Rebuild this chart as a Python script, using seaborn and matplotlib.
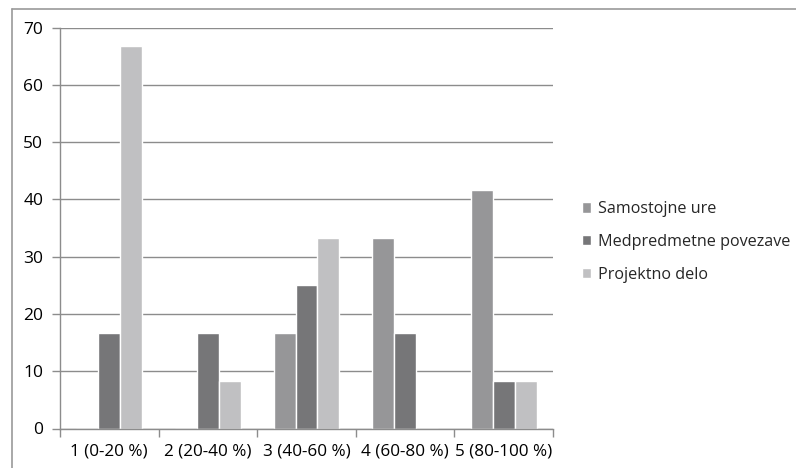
import matplotlib
matplotlib.use("Agg")
import matplotlib.pyplot as plt
from matplotlib.lines import Line2D
import seaborn as sns
import pandas as pd

categories = ["1 (0-20 %)", "2 (20-40 %)", "3 (40-60 %)", "4 (60-80 %)", "5 (80-100 %)"]
series_names = ["Samostojne ure", "Medpredmetne povezave", "Projektno delo"]
samostojne_ure = [0, 0, 16.7, 33.3, 41.7]
medpredmetne_povezave = [16.7, 16.7, 25.0, 16.7, 8.3]
projektno_delo = [66.7, 8.3, 33.3, 0, 8.3]
colors = ["#969698", "#767678", "#c0c0c2"]

rows = []
for name, vals in zip(series_names, [samostojne_ure, medpredmetne_povezave, projektno_delo]):
    for cat, v in zip(categories, vals):
        rows.append({"kategorija": cat, "serija": name, "vrednost": v})
df = pd.DataFrame(rows)

sns.set_theme(style="white")
plt.rcParams["font.family"] = ["Open Sans", "DejaVu Sans"]

fig = plt.figure(figsize=(7.96, 4.68), dpi=100)
ax = fig.add_axes([60 / 796, 1 - 428.5 / 468, (553 - 60) / 796, (428.5 - 27.5) / 468])

sns.barplot(data=df, x="kategorija", y="vrednost", hue="serija",
            order=categories, hue_order=series_names, palette=colors,
            width=2 / 3, saturation=1, ax=ax, legend=True)

ax.set_ylim(0, 70)
ax.set_xlim(-0.5, len(categories) - 0.5)
ax.set_yticks(range(0, 71, 10))
ax.yaxis.grid(True, color="#8c8c8c", linewidth=1)
ax.set_axisbelow(True)
ax.set_xlabel("")
ax.set_ylabel("")

for side in ["top", "right"]:
    ax.spines[side].set_visible(False)
for side in ["left", "bottom"]:
    ax.spines[side].set_color("#8c8c8c")
    ax.spines[side].set_linewidth(1)

ax.tick_params(axis="y", which="major", length=6, width=1, color="#8c8c8c",
               labelsize=12.5, pad=6, labelcolor="#000000", left=True, direction="out")
ax.tick_params(axis="x", which="major", length=0, labelsize=12.3, pad=11, labelcolor="#000000")
ax.set_xticks([i - 0.5 for i in range(len(categories) + 1)], minor=True)
ax.tick_params(axis="x", which="minor", length=6, width=1, color="#8c8c8c", bottom=True, direction="out")

handles, labels = ax.get_legend_handles_labels()
ax.legend(handles, labels, loc="center left", bbox_to_anchor=(567 / 796, 1 - 242 / 468),
          bbox_transform=fig.transFigure, frameon=False, fontsize=11.6,
          handlelength=0.6, handleheight=0.6, handletextpad=0.45, labelspacing=1.05)

# chart-area frame (left and top edges)
fig.add_artist(Line2D([12.5 / 796, 12.5 / 796], [0, 1 - 8.5 / 468], transform=fig.transFigure,
                      color="#9a9a9a", linewidth=1.2))
fig.add_artist(Line2D([12.5 / 796, 1], [1 - 8.5 / 468, 1 - 8.5 / 468], transform=fig.transFigure,
                      color="#9a9a9a", linewidth=1.2))

fig.savefig("out.png", dpi=100, facecolor="white")
